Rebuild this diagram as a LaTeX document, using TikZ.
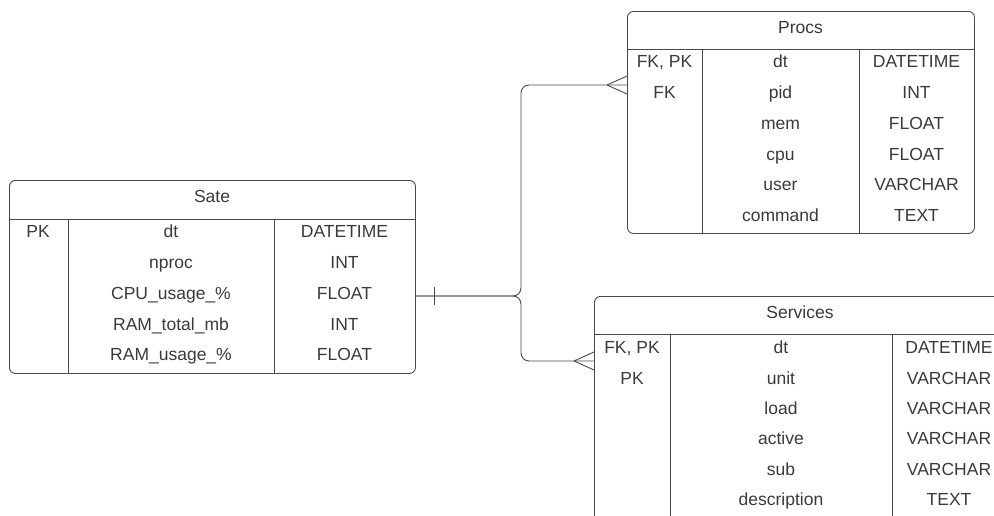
\documentclass[tikz,border=0pt]{standalone}
\usepackage{fontspec}
\setmainfont{Liberation Sans}
\definecolor{erline}{HTML}{4A4A4A}
\definecolor{ertext}{HTML}{3A3A3A}
\tikzset{
  entity/.style={draw=erline, line width=0.9pt, rounded corners=6pt, anchor=north west, inner sep=0pt},
  sepline/.style={draw=erline, line width=0.9pt},
  cell/.style={text=ertext, inner sep=0pt, text height=14pt, text depth=2.5pt, font=\fontsize{17.5}{20}\selectfont},
  rel/.style={draw=erline, line width=0.9pt, rounded corners=8pt},
  crow/.style={draw=erline, line width=0.9pt},
}

\begin{document}
\begin{tikzpicture}[x=1pt,y=1pt,yscale=-1,xscale=1]
\useasboundingbox (0,0) rectangle (994,515);
\clip (0,0) rectangle (994,515);

%Entity: Sate
\node[entity, minimum width=406pt, minimum height=193pt] (sate) at (9,180) {};
\draw[sepline] (9,219) -- (415,219);
\draw[sepline] (68,219) -- (68,373);
\draw[sepline] (274,219) -- (274,373);
\node[cell] (sate-title) at (212,197) {Sate};
\foreach \k/\f/\t [count=\i from 0] in {PK/dt/DATETIME, /nproc/INT, /CPU\_usage\_\%/FLOAT, /RAM\_total\_mb/INT, /RAM\_usage\_\%/FLOAT}{
  \node[cell] (sate-k\i) at (38,{232+30.75*\i}) {\k};
  \node[cell] (sate-f\i) at (171,{232+30.75*\i}) {\f};
  \node[cell] (sate-t\i) at (344.5,{232+30.75*\i}) {\t};
}

%Entity: Procs
\node[entity, minimum width=347pt, minimum height=222pt] (procs) at (627,11) {};
\draw[sepline] (627,49) -- (974,49);
\draw[sepline] (702,49) -- (702,233);
\draw[sepline] (859,49) -- (859,233);
\node[cell] (procs-title) at (800.5,28) {Procs};
\foreach \k/\f/\t [count=\i from 0] in {{FK, PK}/dt/DATETIME, FK/pid/INT, /mem/FLOAT, /cpu/FLOAT, /user/VARCHAR, /command/TEXT}{
  \node[cell] (procs-k\i) at (664.5,{62+30.8*\i}) {\k};
  \node[cell] (procs-f\i) at (780.5,{62+30.8*\i}) {\f};
  \node[cell] (procs-t\i) at (916.5,{62+30.8*\i}) {\t};
}

%Entity: Services (runs off the right and bottom edge)
\node[entity, minimum width=412pt, minimum height=240pt] (serv) at (594,296) {};
\draw[sepline] (594,334) -- (1006,334);
\draw[sepline] (670,334) -- (670,536);
\draw[sepline] (892,334) -- (892,536);
\node[cell] (serv-title) at (800,313) {Services};
\foreach \k/\f/\t [count=\i from 0] in {{FK, PK}/dt/DATETIME, PK/unit/VARCHAR, /load/VARCHAR, /active/VARCHAR, /sub/VARCHAR, /description/TEXT}{
  \node[cell] (serv-k\i) at (632,{348+30.4*\i}) {\k};
  \node[cell] (serv-f\i) at (781,{348+30.4*\i}) {\f};
  \node[cell] (serv-t\i) at (949,{348+30.4*\i}) {\t};
}

%Relations
\coordinate (sate-out) at (sate.east |- 0,296);
\coordinate (junc) at (521,296);
\coordinate (procs-in) at (procs.west |- 0,85);
\coordinate (serv-in) at (serv.west |- 0,361);

\draw[rel] (sate-out) -- (junc) |- (procs-in);
\draw[rel] (sate-out) -- (junc) |- (serv-in);

% one
\draw[crow] ([xshift=19pt,yshift=-9pt]sate-out) -- ([xshift=19pt,yshift=9pt]sate-out);
% many
\draw[crow] ([xshift=-20pt]procs-in) -- ([yshift=-9pt]procs-in);
\draw[crow] ([xshift=-20pt]procs-in) -- ([yshift=9pt]procs-in);
\draw[crow] ([xshift=-20pt]serv-in) -- ([yshift=-9pt]serv-in);
\draw[crow] ([xshift=-20pt]serv-in) -- ([yshift=9pt]serv-in);

\end{tikzpicture}
\end{document}
